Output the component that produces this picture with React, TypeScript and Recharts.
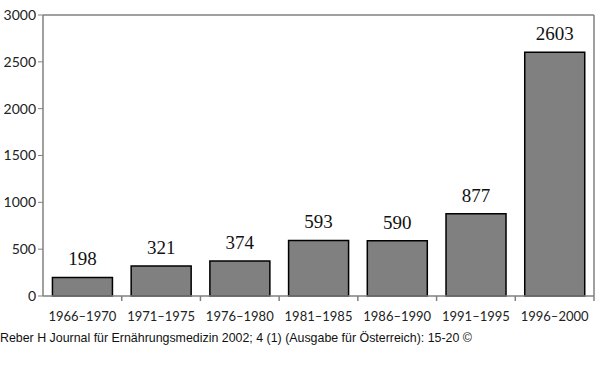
import { BarChart, Bar, XAxis, YAxis, LabelList, ReferenceLine } from 'recharts';

const periods = ['1966–1970', '1971–1975', '1976–1980', '1981–1985', '1986–1990', '1991–1995', '1996–2000'];
const counts = [198, 321, 374, 593, 590, 877, 2603];
const yTicks = [0, 500, 1000, 1500, 2000, 2500, 3000];

const data = periods.map((p, i) => ({ period: p, count: counts[i] }));

const axisGray = '#808080';

function BoundaryTick(props: any) {
  const { x, y, payload } = props;
  const half = payload?.offset ?? 0;
  return (
    <g>
      <line x1={x + half} y1={y - 8} x2={x + half} y2={y - 3} stroke={axisGray} strokeWidth={1.5} />
      <text x={x} y={y + 17} textAnchor="middle" fontSize={13} fill="#222" fontFamily="Lato, 'DejaVu Sans', sans-serif">
        {payload.value}
      </text>
    </g>
  );
}

export default function App() {
  return (
    <div style={{ position: 'absolute', left: 0, top: 0, width: 600, height: 389, background: '#fff' }}>
      <BarChart
        width={600}
        height={330}
        data={data}
        margin={{ top: 15, right: 6, left: 0, bottom: 0 }}
        barCategoryGap="12%"
      >
        <XAxis
          dataKey="period"
          height={34}
          axisLine={{ stroke: axisGray, strokeWidth: 1.5 }}
          tickLine={false}
          tick={<BoundaryTick />}
          interval={0}
        />
        <YAxis
          width={43}
          domain={[0, 3000]}
          ticks={yTicks}
          interval={0}
          axisLine={{ stroke: axisGray, strokeWidth: 1.5 }}
          tickLine={{ stroke: axisGray }}
          tickSize={5}
          tick={{ fontSize: 14, fill: '#222', fontFamily: "Lato, 'DejaVu Sans', sans-serif" }}
        />
        <ReferenceLine y={3000} stroke={axisGray} strokeWidth={1.5} />
        <ReferenceLine x={periods[periods.length - 1]} position="end" stroke={axisGray} strokeWidth={1.5} />
        <Bar dataKey="count" fill="#808080" stroke="#000" strokeWidth={1.5} isAnimationActive={false}>
          <LabelList
            dataKey="count"
            position="top"
            offset={12}
            fontSize={19}
            fill="#111"
            fontFamily="'Liberation Serif', 'DejaVu Serif', serif"
          />
        </Bar>
      </BarChart>
      <div
        style={{
          position: 'absolute',
          left: 0,
          top: 331,
          fontFamily: "'Liberation Sans', Arial, sans-serif",
          fontSize: 12.4,
          color: '#111',
          whiteSpace: 'nowrap',
        }}
      >
        Reber H Journal für Ernährungsmedizin 2002; 4 (1) (Ausgabe für Österreich): 15-20 ©
      </div>
    </div>
  );
}
